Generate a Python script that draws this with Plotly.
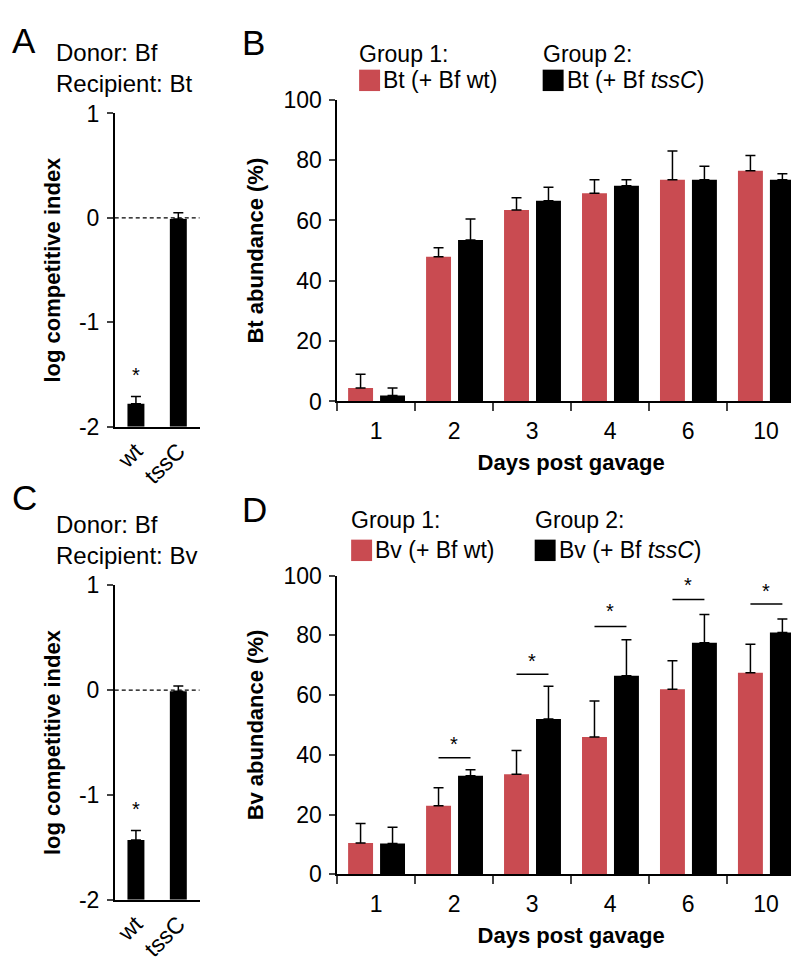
import plotly.graph_objects as go

# ---- data ----
ci_labels = ["wt", "tssC"]
ci_ticks = [-2, -1, 0, 1]
ci_ticktext = ["-2", "-1", "0", "1"]

# panel A: donor Bf, recipient Bt
bt_ci = [-1.78, -0.01]
bt_ci_err = [0.07, 0.06]
bt_ci_star = -1.5

# panel C: donor Bf, recipient Bv
bv_ci = [-1.43, -0.01]
bv_ci_err = [0.09, 0.05]
bv_ci_star = -1.13

days = ["1", "2", "3", "4", "6", "10"]
pct_ticks = [0, 20, 40, 60, 80, 100]

# panel B: Bt abundance
bt_wt = [4.5, 48, 63.5, 69, 73.5, 76.5]
bt_wt_err = [4.5, 3, 4, 4.5, 9.5, 5]
bt_tssc = [2, 53.5, 66.5, 71.5, 73.5, 73.5]
bt_tssc_err = [2.5, 7, 4.5, 2, 4.5, 2]

# panel D: Bv abundance
bv_wt = [10.5, 23, 33.5, 46, 62, 67.5]
bv_wt_err = [6.5, 6, 8, 12, 9.5, 9.5]
bv_tssc = [10.3, 33, 52, 66.5, 77.5, 81]
bv_tssc_err = [5.5, 2, 11, 12, 9.5, 4.5]
bv_sig_line = [None, 39, 67, 83, 92, 90.5]
bv_sig_star = [None, 43.5, 71.5, 88, 97, 95]

RED = "#C94B51"
BLACK = "#000000"
FONT = "Liberation Sans, Arial, sans-serif"
W, H = 799, 965


def fx(px):
    return px / W


def fy(py):
    return 1 - py / H


fig = go.Figure()

err_style = dict(type="data", symmetric=False, color=BLACK, thickness=1.5, width=5)

# competitive index panels (bars start at the -2 baseline)
for ax, vals, errs in [("", bt_ci, bt_ci_err), ("3", bv_ci, bv_ci_err)]:
    fig.add_trace(go.Bar(
        x=ci_labels, y=[v - ci_ticks[0] for v in vals], base=ci_ticks[0],
        width=0.4, marker_color=BLACK, marker_line_width=0,
        error_y=dict(array=errs, arrayminus=[0] * len(errs), **err_style),
        xaxis="x" + ax, yaxis="y" + ax, showlegend=False,
    ))

# abundance panels
for ax, wt, wt_err, ts, ts_err in [("2", bt_wt, bt_wt_err, bt_tssc, bt_tssc_err),
                                   ("4", bv_wt, bv_wt_err, bv_tssc, bv_tssc_err)]:
    fig.add_trace(go.Bar(
        x=days, y=wt, width=0.32, offset=-0.36, marker_color=RED, marker_line_width=0,
        error_y=dict(array=wt_err, arrayminus=[0] * 6, **err_style),
        xaxis="x" + ax, yaxis="y" + ax, showlegend=False,
    ))
    fig.add_trace(go.Bar(
        x=days, y=ts, width=0.32, offset=0.05, marker_color=BLACK, marker_line_width=0,
        error_y=dict(array=ts_err, arrayminus=[0] * 6, **err_style),
        xaxis="x" + ax, yaxis="y" + ax, showlegend=False,
    ))

tickfont = dict(family=FONT, size=23, color=BLACK)
titlefont = dict(family=FONT, size=22, color=BLACK, weight="bold")
axis_common = dict(showline=True, linecolor=BLACK, linewidth=1.5, showgrid=False,
                   zeroline=False, tickfont=tickfont, fixedrange=True)

ci_x = dict(axis_common, type="category", ticks="", range=[-0.5, 1.5], tickangle=-45)
ci_y = dict(axis_common, range=[-2, 1], tickvals=ci_ticks, ticktext=ci_ticktext,
            ticks="outside", ticklen=6, tickwidth=1.5, ticklabelstandoff=3,
            title=dict(text="log competitive index", font=titlefont, standoff=12))
ab_x = dict(axis_common, type="category", range=[-0.5, 5.5], ticks="outside",
            tickson="boundaries", ticklen=8, tickwidth=1.5, ticklabelstandoff=8,
            title=dict(text="Days post gavage", font=titlefont, standoff=12))
ab_y = dict(axis_common, range=[0, 100], tickvals=pct_ticks, ticks="outside",
            ticklen=6, tickwidth=1.5, ticklabelstandoff=3)

fig.update_layout(
    width=W, height=H, margin=dict(l=0, r=0, t=0, b=0),
    paper_bgcolor="white", plot_bgcolor="white", barmode="overlay",
    font=dict(family=FONT, color=BLACK),
    xaxis=dict(ci_x, domain=[fx(105), fx(190)], anchor="y"),
    yaxis=dict(ci_y, domain=[fy(417), fy(95)], anchor="x"),
    xaxis3=dict(ci_x, domain=[fx(105), fx(190)], anchor="y3"),
    yaxis3=dict(ci_y, domain=[fy(903), fy(580)], anchor="x3"),
    xaxis2=dict(ab_x, domain=[fx(328), fx(797)], anchor="y2"),
    yaxis2=dict(ab_y, domain=[fy(391), fy(81)], anchor="x2",
                title=dict(text="Bt abundance (%)", font=titlefont, standoff=14)),
    xaxis4=dict(ab_x, domain=[fx(328), fx(797)], anchor="y4"),
    yaxis4=dict(ab_y, domain=[fy(877), fy(570)], anchor="x4",
                title=dict(text="Bv abundance (%)", font=titlefont, standoff=14)),
)

# dashed zero lines in the competitive index panels
for ax in ["", "3"]:
    fig.add_shape(type="line", xref="x" + ax + " domain", yref="y" + ax,
                  x0=0, x1=1, y0=0, y1=0, line=dict(color=BLACK, width=1.3, dash="4px,3px"))

annotations = []
# significance stars over the wt bar
for ax, ystar in [("", bt_ci_star), ("3", bv_ci_star)]:
    annotations.append(dict(xref="x" + ax, yref="y" + ax, x=0, y=ystar, text="*",
                            showarrow=False, font=dict(size=20, family=FONT)))

# significance brackets in panel D
for i, (ly, sy) in enumerate(zip(bv_sig_line, bv_sig_star)):
    if ly is None:
        continue
    fig.add_shape(type="line", xref="x4", yref="y4", x0=i - 0.2, x1=i + 0.21,
                  y0=ly, y1=ly, line=dict(color=BLACK, width=1.5))
    annotations.append(dict(xref="x4", yref="y4", x=i, y=sy, text="*",
                            showarrow=False, font=dict(size=20, family=FONT)))

# panel letters
for letter, x, y in [("A", 0, 20), ("B", 231, 22), ("C", 0, 490), ("D", 231, 502)]:
    annotations.append(dict(xref="paper", yref="paper", x=fx(x), y=fy(y), text=letter,
                            xanchor="left", yanchor="middle", showarrow=False,
                            font=dict(size=35, family=FONT)))

# donor / recipient headers
for text, y in [("Donor: Bf<br>Recipient: Bt", 48), ("Donor: Bf<br>Recipient: Bv", 533)]:
    annotations.append(dict(xref="paper", yref="paper", x=fx(44), y=fy(y), text=text,
                            xanchor="left", yanchor="middle", align="left", showarrow=False,
                            font=dict(size=24, family=FONT)))

# hand-built group legends
for sp, x0, yg, yl in [("Bt", 350, 34, 61), ("Bv", 342, 513, 544)]:
    for grp, dx, col, lab in [("Group 1:", 0, RED, sp + " (+ Bf wt)"),
                              ("Group 2:", 184, BLACK, sp + " (+ Bf <i>tssC</i>)")]:
        annotations.append(dict(xref="paper", yref="paper", x=fx(x0 + dx - 2), y=fy(yg),
                                text=grp, xanchor="left", yanchor="middle", showarrow=False,
                                font=dict(size=23, family=FONT)))
        fig.add_shape(type="rect", xref="paper", yref="paper",
                      x0=fx(x0 + dx), x1=fx(x0 + dx + 21), y0=fy(yl + 11), y1=fy(yl - 11),
                      fillcolor=col, line=dict(width=0))
        annotations.append(dict(xref="paper", yref="paper", x=fx(x0 + dx + 22), y=fy(yl),
                                text=lab, xanchor="left", yanchor="middle", showarrow=False,
                                font=dict(size=23, family=FONT)))

fig.update_layout(annotations=annotations)
fig.write_html("out.html")
